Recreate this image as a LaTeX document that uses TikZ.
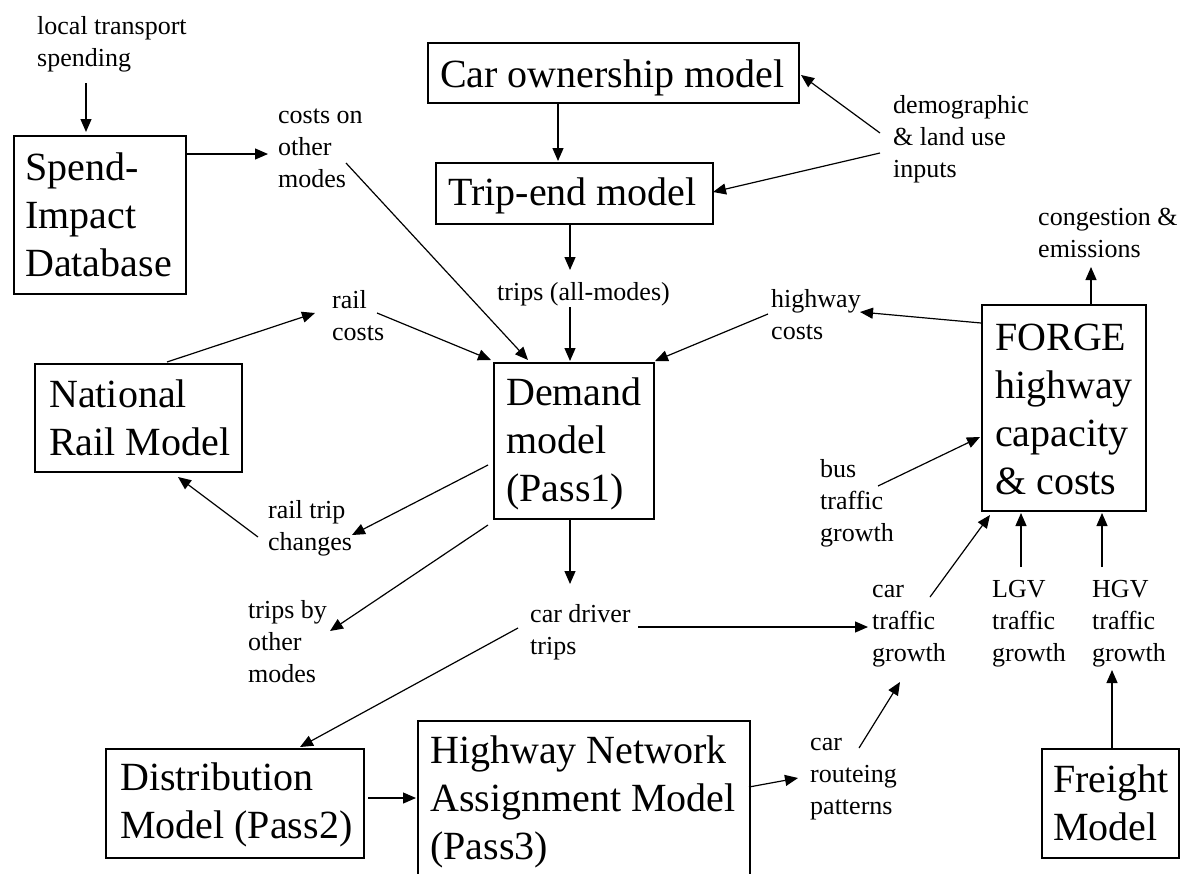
\documentclass[tikz,border=0pt]{standalone}
\usepackage{fontspec}
\setmainfont{Liberation Serif}
\usetikzlibrary{arrows.meta}
\newcommand\mybigf{\fontsize{40}{48}\selectfont}
\newcommand\mylabf{\fontsize{26}{32}\selectfont}
\newcommand\bst{\rule[-14.4pt]{0pt}{48pt}}
\newcommand\lst{\rule[-9.6pt]{0pt}{32pt}}
\tikzset{
  boxn/.style={draw, line width=1.6pt, inner sep=0pt, anchor=north west},
  btext/.style={font=\mybigf, align=left, inner sep=0pt, anchor=north west},
  ltext/.style={font=\mylabf, align=left, inner sep=0pt, anchor=north west},
  arr/.style={line width=1.2pt, -{Triangle[length=13pt,width=11pt]}}
}
\begin{document}
\begin{tikzpicture}[x=1pt,y=-1pt]
\useasboundingbox (0,0) rectangle (1180,873);
\clip (0,0) rectangle (1180,873);
\fill[white] (0,0) rectangle (1180,873);
% boxes
\node[boxn, minimum width=172pt, minimum height=158pt] (spend) at (13,135) {};
\node[boxn, minimum width=371pt, minimum height=60pt] (carown) at (427,42) {};
\node[boxn, minimum width=277pt, minimum height=61pt] (tripend) at (435,162) {};
\node[boxn, minimum width=160pt, minimum height=156pt] (demand) at (493,362) {};
\node[boxn, minimum width=207pt, minimum height=108pt] (rail) at (34,363) {};
\node[boxn, minimum width=164pt, minimum height=206pt] (forge) at (981,304) {};
\node[boxn, minimum width=258pt, minimum height=109pt] (distr) at (105,748) {};
\node[boxn, minimum width=332pt, minimum height=200pt] (hwy) at (417,720) {};
\node[boxn, minimum width=137pt, minimum height=109pt] (freight) at (1041,748) {};
% box texts
\node[btext] (spend-t) at (25,146.4) {\bst Spend-\\Impact\\Database};
\node[btext] (carown-t) at (440,53.4) {\bst Car ownership model};
\node[btext] (tripend-t) at (448,171.4) {\bst Trip-end model};
\node[btext] (demand-t) at (506,371.4) {\bst Demand\\model\\(Pass1)};
\node[btext] (rail-t) at (49,373.4) {\bst National\\Rail Model};
\node[btext] (forge-t) at (995,316.4) {\bst FORGE\\highway\\capacity\\\& costs};
\node[btext] (distr-t) at (120,756.4) {\bst Distribution\\Model (Pass2)};
\node[btext] (hwy-t) at (430,729.4) {\bst Highway Network\\Assignment Model\\(Pass3)};
\node[btext] (freight-t) at (1053,758.4) {\bst Freight\\Model};
% labels
\node[ltext] (lts) at (37,11.6) {\lst local transport\\spending};
\node[ltext] (cosm) at (278,100.6) {\lst costs on\\other\\modes};
\node[ltext] (demo) at (893,90.6) {\lst demographic\\\& land use\\inputs};
\node[ltext] (tall) at (497,277.6) {\lst trips (all-modes)};
\node[ltext] (cong) at (1038,202.6) {\lst congestion \&\\emissions};
\node[ltext] (hwc) at (771,284.6) {\lst highway\\costs};
\node[ltext] (rlc) at (332,285.6) {\lst rail\\costs};
\node[ltext] (rtc) at (268,495.6) {\lst rail trip\\changes};
\node[ltext] (tbo) at (248,595.6) {\lst trips by\\other\\modes};
\node[ltext] (cdt) at (530,599.6) {\lst car driver\\trips};
\node[ltext] (bus) at (820,454.6) {\lst bus\\traffic\\growth};
\node[ltext] (ctg) at (872,574.6) {\lst car\\traffic\\growth};
\node[ltext] (lgv) at (992,574.6) {\lst LGV\\traffic\\growth};
\node[ltext] (hgv) at (1092,574.6) {\lst HGV\\traffic\\growth};
\node[ltext] (crp) at (810,727.6) {\lst car\\routeing\\patterns};
% connectors
\draw[arr] ([shift={(49,71.4)}]lts.north west) -- ([shift={(73,-3)}]spend.north west);
\draw[arr] ([shift={(172,19)}]spend.north west) -- ([shift={(-10,53.4)}]cosm.north west);
\draw[arr] ([shift={(68,62.4)}]cosm.north west) -- ([shift={(35,-2)}]demand.north west);
\draw[arr] ([shift={(131,60)}]carown.north west) -- ([shift={(123,-1)}]tripend.north west);
\draw[arr] ([shift={(-13,42.4)}]demo.north west) -- ([shift={(374,33)}]carown.north west);
\draw[arr] ([shift={(-13,62.4)}]demo.north west) -- ([shift={(278,30)}]tripend.north west);
\draw[arr] ([shift={(135,61)}]tripend.north west) -- ([shift={(73,-7.6)}]tall.north west);
\draw[arr] ([shift={(73,29.4)}]tall.north west) -- ([shift={(77,-1)}]demand.north west);
\draw[arr] ([shift={(45,27.4)}]rlc.north west) -- ([shift={(-2,-2)}]demand.north west);
\draw[arr] ([shift={(133,-1)}]rail.north west) -- ([shift={(-17,27.4)}]rlc.north west);
\draw[arr] ([shift={(-3,29.4)}]hwc.north west) -- ([shift={(162,-1)}]demand.north west);
\draw[arr] ([shift={(0,19)}]forge.north west) -- ([shift={(89,27.4)}]hwc.north west);
\draw[arr] ([shift={(110,0)}]forge.north west) -- ([shift={(53,64.4)}]cong.north west);
\draw[arr] ([shift={(-5,103)}]demand.north west) -- ([shift={(84,39.4)}]rtc.north west);
\draw[arr] ([shift={(-10,41.4)}]rtc.north west) -- ([shift={(144,114)}]rail.north west);
\draw[arr] ([shift={(-5,163)}]demand.north west) -- ([shift={(82,35.4)}]tbo.north west);
\draw[arr] ([shift={(77,156)}]demand.north west) -- ([shift={(40,-15.6)}]cdt.north west);
\draw[arr] ([shift={(108,27.4)}]cdt.north west) -- ([shift={(-4,52.4)}]ctg.north west);
\draw[arr] ([shift={(-12,28.4)}]cdt.north west) -- ([shift={(195,-1)}]distr.north west);
\draw[arr] ([shift={(263,50)}]distr.north west) -- ([shift={(-1,78)}]hwy.north west);
\draw[arr] ([shift={(332,67)}]hwy.north west) -- ([shift={(-12,50.4)}]crp.north west);
\draw[arr] ([shift={(49,20.4)}]crp.north west) -- ([shift={(28,107.4)}]ctg.north west);
\draw[arr] ([shift={(58,22.4)}]ctg.north west) -- ([shift={(9,211)}]forge.north west);
\draw[arr] ([shift={(58,31.4)}]bus.north west) -- ([shift={(-1,133)}]forge.north west);
\draw[arr] ([shift={(29,-7.6)}]lgv.north west) -- ([shift={(40,209)}]forge.north west);
\draw[arr] ([shift={(10,-7.6)}]hgv.north west) -- ([shift={(121,209)}]forge.north west);
\draw[arr] ([shift={(71,0)}]freight.north west) -- ([shift={(20,95.4)}]hgv.north west);
\end{tikzpicture}
\end{document}
